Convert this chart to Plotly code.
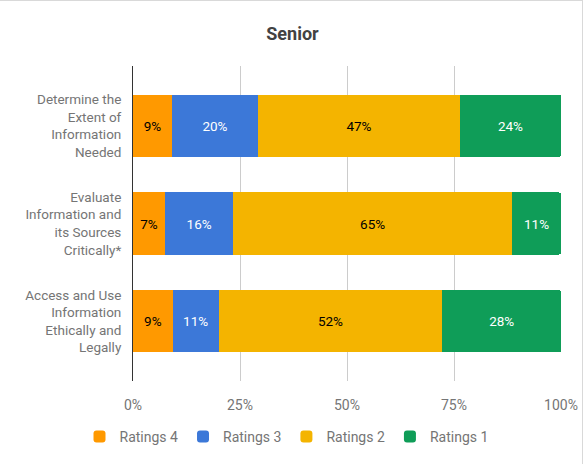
import plotly.graph_objects as go

categories = [
    "Determine the<br>Extent of<br>Information<br>Needed",
    "Evaluate<br>Information and<br>its Sources<br>Critically*",
    "Access and Use<br>Information<br>Ethically and<br>Legally",
]
series_names = ["Ratings 4", "Ratings 3", "Ratings 2", "Ratings 1"]
ratings4 = [9.1, 7.5, 9.3]
ratings3 = [20.1, 15.9, 10.7]
ratings2 = [47.2, 65.2, 52.3]
ratings1 = [23.6, 11.4, 27.7]
labels4 = ["9%", "7%", "9%"]
labels3 = ["20%", "16%", "11%"]
labels2 = ["47%", "65%", "52%"]
labels1 = ["24%", "11%", "28%"]
tick_vals = [0, 25, 50, 75, 100]
tick_text = ["0%", "25%", "50%", "75%", "100%"]

colors = ["#ff9900", "#3c78d8", "#f4b400", "#0f9d58"]
text_colors = ["#000000", "#ffffff", "#000000", "#ffffff"]

W, H = 585, 464
L, R, T, B = 133, 24, 66, 83

fig = go.Figure()
for name, vals, labs, c, tc in zip(series_names, [ratings4, ratings3, ratings2, ratings1],
                                  [labels4, labels3, labels2, labels1], colors, text_colors):
    fig.add_trace(go.Bar(
        y=categories, x=vals, name=name, orientation="h",
        marker=dict(color=c, line=dict(width=0)),
        text=labs, textposition="inside", insidetextanchor="middle",
        textfont=dict(color=tc, size=13.5, family="Roboto"),
        hoverinfo="skip",
    ))

def px_x(p):
    return (p - L) / (W - L - R)

def px_y(p):
    return (H - B - p) / (H - T - B)

fig.update_layout(
    width=W, height=H, autosize=False,
    barmode="stack", bargap=0.365, barcornerradius=2,
    margin=dict(l=L, r=R, t=T, b=B, autoexpand=False),
    paper_bgcolor="white", plot_bgcolor="white",
    font=dict(family="Roboto", color="#757575", size=14),
    title=dict(text="<b>Senior</b>", x=0.5, xanchor="center", xref="container",
               y=1 - 34 / H, yanchor="middle", yref="container",
               font=dict(size=18, color="#424242", family="Roboto")),
    xaxis=dict(range=[0, 100], tickvals=tick_vals, ticktext=tick_text,
               showgrid=True, gridcolor="#cccccc", gridwidth=1,
               zeroline=False, showline=False, ticks="", automargin=False,
               ticklabelstandoff=14,
               tickfont=dict(size=14, color="#757575")),
    yaxis=dict(range=[2.61, -0.61], showgrid=False, zeroline=False,
               showline=True, linecolor="#333333", linewidth=1, ticks="",
               ticklabelstandoff=8, automargin=False,
               tickfont=dict(size=13.5, color="#757575")),
    legend=dict(orientation="h", xref="container", yref="container",
                x=0.5 - 6 / W, xanchor="center", y=1 - 437 / H, yanchor="middle",
                font=dict(size=14, color="#757575"), traceorder="normal"),
    showlegend=True,
    shapes=[
        dict(type="line", xref="paper", yref="paper", x0=px_x(0), x1=px_x(583),
             y0=px_y(0.5), y1=px_y(0.5), line=dict(color="#d9d9d9", width=1)),
        dict(type="line", xref="paper", yref="paper", x0=px_x(582.5), x1=px_x(582.5),
             y0=px_y(0), y1=px_y(464), line=dict(color="#d9d9d9", width=1)),
    ],
)

fig.write_html(
    "out.html",
    config={"displayModeBar": False, "responsive": False},
    post_script="document.body.style.margin='0';document.body.style.overflow='hidden';",
)
